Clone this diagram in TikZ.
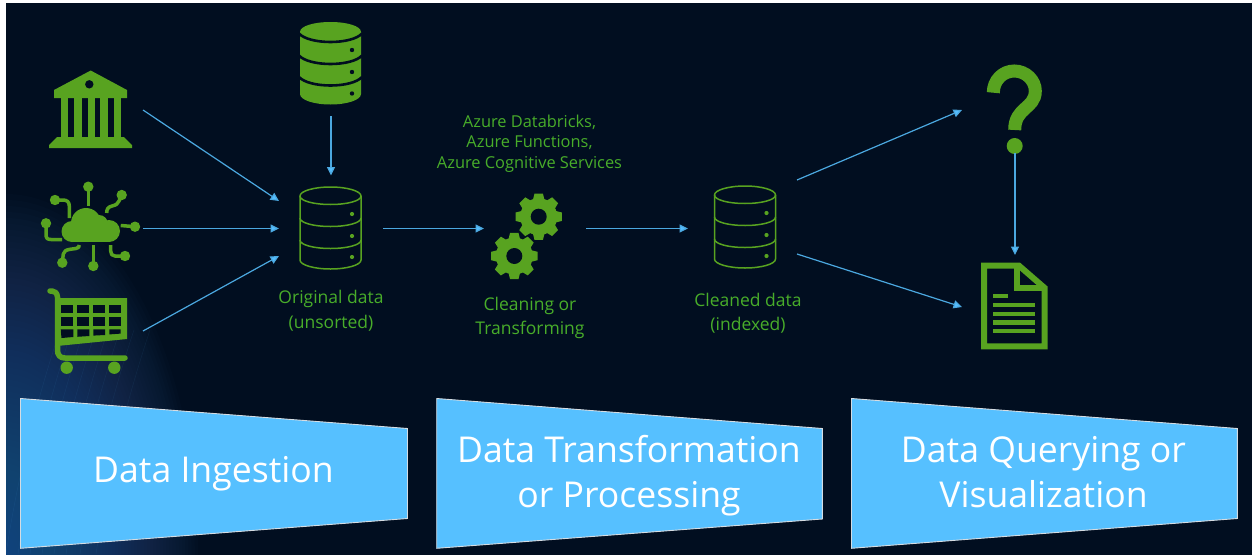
\documentclass[tikz,border=0pt]{standalone}
\usepackage{fontspec}
\setmainfont{Open Sans}
\usetikzlibrary{arrows.meta}
\definecolor{bgnavy}{HTML}{010E20}
\definecolor{glowblue}{HTML}{3A6CAE}
\definecolor{icongreen}{HTML}{58A320}
\definecolor{textgreen}{HTML}{48AD2A}
\definecolor{linkblue}{HTML}{4BA8E0}
\definecolor{headblue}{HTML}{55BEFF}
\definecolor{panelblue}{HTML}{56C0FF}
\definecolor{panelrim}{HTML}{D5DCE2}
\tikzset{
  anchorbox/.style={inner sep=0pt,outer sep=0pt,rectangle},
  link/.style={draw=linkblue,line width=1.2pt,-{Triangle[length=8.5pt,width=8pt,fill=headblue]}},
  smalllabel/.style={text=textgreen,align=center,inner sep=0pt,font=\fontsize{17.5}{24.5}\selectfont},
  toollabel/.style={text=textgreen,align=center,inner sep=0pt,font=\fontsize{16.4}{20.5}\selectfont},
  panel/.style={fill=panelblue,draw=panelrim,line width=0.9pt,line join=miter},
  paneltext/.style={text=white,align=center,inner sep=0pt,font=\fontsize{35.6}{45}\selectfont},
  trace/.style={draw=icongreen,line width=3.5pt,line join=round,fill=none},
}
\newcommand{\dbfilled}{%
  \fill[icongreen] (300,32) .. controls (300,26) and (314,22) .. (330.5,22)
    .. controls (347,22) and (361,26) .. (361,32) -- (361,94)
    .. controls (361,100) and (347,104.5) .. (330.5,104.5)
    .. controls (314,104.5) and (300,100) .. (300,94) -- cycle;
  \foreach \dy in {0,22,43.5}{
    \draw[bgnavy,line width=2.6pt,yshift=-\dy pt] (299,33.5) .. controls (304,39) and (317,42) .. (330.5,42)
      .. controls (344,42) and (357,39) .. (362,33.5);
  }
  \foreach \cy in {50,72,93.5}{\fill[bgnavy] (352,\cy) circle[radius=2.2pt];}
}
\newcommand{\dboutline}[2]{%
  \begin{scope}[shift={(#1,#2)}]
  \draw[icongreen,line width=1.5pt] (300,196) .. controls (300,191) and (314,187) .. (330.5,187)
    .. controls (347,187) and (361,191) .. (361,196) -- (361,260)
    .. controls (361,265) and (347,269) .. (330.5,269)
    .. controls (314,269) and (300,265) .. (300,260) -- cycle;
  \foreach \dy in {0,22,44}{
    \draw[icongreen,line width=1.5pt,yshift=-\dy pt] (300,196) .. controls (300,201) and (314,204.5) .. (330.5,204.5)
      .. controls (347,204.5) and (361,201) .. (361,196);
  }
  \foreach \cy in {214,236,257}{\fill[icongreen] (352,\cy) circle[radius=2.1pt];}
  \end{scope}
}
\newcommand{\gearicon}[2]{%
  \fill[icongreen] (#1,#2) circle[radius=18.5pt];
  \foreach \a in {0,45,...,315}{
    \fill[icongreen,shift={(#1,#2)},rotate=\a] (-6,-16) -- (-4.2,-23.2) -- (4.2,-23.2) -- (6,-16) -- cycle;
  }
  \fill[bgnavy] (#1,#2) circle[radius=8pt];
}
\begin{document}
\begin{tikzpicture}[x=1pt,y=-1pt]
\useasboundingbox (0,0) rectangle (1252,554);
\fill[white] (-5,-5) rectangle (1260,560);
\fill[bgnavy] (6,3) rectangle (1260,560);
% corner glow
\begin{scope}
  \clip (6,3) rectangle (1260,560);
  \foreach \r in {1,...,60}{
    \fill[glowblue,opacity=.022] (6,554) ellipse[x radius=3.2*\r pt,y radius=6*\r pt];
  }
  \foreach \o in {0,12,24,36,48,60,74,90}{
    \draw[headblue,opacity=.07,line width=.5pt] (6+\o,554) .. controls (14+\o,500) and (30+\o,420) .. (60+\o,330);
  }
\end{scope}
% invisible anchors for the icons
\node[anchorbox,minimum width=105pt,minimum height=76pt] (bank) at (90.5,110) {};
\node[anchorbox,minimum width=105pt,minimum height=90pt] (iot) at (90.5,228.5) {};
\node[anchorbox,minimum width=105pt,minimum height=90pt] (cart) at (90.5,331) {};
\node[anchorbox,minimum width=62pt,minimum height=106pt] (dbsource) at (331,63) {};
\node[anchorbox,minimum width=104pt,minimum height=106pt] (dboriginal) at (331,228.5) {};
\node[anchorbox,minimum width=102pt,minimum height=60pt] (gears) at (535,228.5) {};
\node[anchorbox,minimum width=109pt,minimum height=90pt] (dbclean) at (742.5,217) {};
\node[anchorbox,minimum width=106pt,minimum height=86pt] (query) at (1015,110) {};
\node[anchorbox,minimum width=106pt,minimum height=104pt] (report) at (1015,307) {};
% bank
\fill[icongreen] (90.7,70.5) -- (127,90) -- (127,98) -- (54,98) -- (54,90) -- cycle;
\fill[bgnavy] (89.3,84.3) circle[radius=4.2pt];
\foreach \xa/\xb in {61/68,74/82,87.5/94.5,100/108,114/121}{\fill[icongreen] (\xa,98) rectangle (\xb,138);}
\fill[icongreen] (57,137) -- (124,137) -- (132,145) -- (132,148) -- (49,148) -- (49,145) -- cycle;
% cloud + traces
\fill[icongreen] (86,223) circle[radius=15pt] (72,231.5) circle[radius=10.5pt] (109,231) circle[radius=11pt] (99,224) circle[radius=9pt];
\fill[icongreen] (72,221) rectangle (109,242);
\draw[trace] (88.3,187) -- (88.3,206);
\draw[trace] (55,200) -- (63,200) .. controls (67,200) and (69.3,202) .. (69.3,206) -- (69.3,218);
\draw[trace] (121.7,195) -- (119,201) .. controls (118,204) and (116,205) .. (112,206) .. controls (108,207) and (106.7,209) .. (106.7,213);
\draw[trace] (46,223.3) -- (46,234) .. controls (46,238) and (47,239.5) .. (51,239.5) -- (62,239.5);
\draw[trace] (135,226.7) -- (120.7,225.5);
\draw[trace] (62.3,262.7) -- (63.3,254) .. controls (64,251) and (66,250) .. (70,249.3) -- (76,248.5) .. controls (78.5,248) and (79.3,247) .. (79.3,245);
\draw[trace] (93.3,266) -- (93.3,245);
\draw[trace] (125,256) -- (115,256) .. controls (112,256) and (110.7,254) .. (110.7,251) -- (110.7,245);
\foreach \px/\py in {88.3/186.7,55/200,121.7/195,46/223.3,135/226.7,62.3/262.7,93.3/266,125/256}{
  \fill[icongreen] (\px,\py) circle[radius=5.2pt];
}
% cart
\fill[icongreen] (56,298) -- (127,298) -- (127,339) -- (62,345.5) -- (60,345.5) -- cycle;
\foreach \xa/\xb/\ya/\yb in {60.7/73.3/305/313.3,77.3/89.3/305/313.3,93.3/105/305/313.3,109.3/120.7/305/313.3,
  60.7/73.3/317.3/326,77.3/89.3/317.3/326,93.3/105/317.3/326,109.3/120.7/317.3/326}{
  \fill[bgnavy] (\xa,\ya) rectangle (\xb,\yb);
}
\fill[bgnavy] (60.7,329.3) -- (73.3,329.3) -- (73.3,337) -- (61.5,338) -- cycle;
\fill[bgnavy] (77.3,329.3) -- (89.3,329.3) -- (89.3,336) -- (77.3,336.8) -- cycle;
\fill[bgnavy] (93.3,329.3) -- (105,329.3) -- (105,335) -- (93.3,335.6) -- cycle;
\fill[bgnavy] (109.3,329.3) -- (120.7,329.3) -- (120.7,333.6) -- (109.3,334.4) -- cycle;
\draw[icongreen,line width=5.5pt,line cap=round,line join=round] (50,291) -- (52,291) .. controls (55,291) and (57,293) .. (57.5,297) -- (57.5,350) .. controls (57.5,355) and (60,358) .. (65,358) -- (125,358);
\fill[icongreen] (66.7,367.7) circle[radius=6.2pt] (114.3,367.7) circle[radius=6.2pt];
% databases
\dbfilled
\dboutline{0}{0}
\dboutline{414.5}{-1}
% gears
\gearicon{538.7}{216.7}
\gearicon{514.3}{256}
% question mark
\draw[icongreen,line width=13pt] (993.3,92.7) .. controls (993.3,80.4) and (1002.7,71) .. (1014.3,71)
  .. controls (1026,71) and (1035.3,80.4) .. (1035.3,91) .. controls (1035.3,109) and (1014.7,107) .. (1014.7,130);
\fill[icongreen] (1014.7,146) circle[radius=8pt];
% document
\draw[icongreen,line width=6pt,line join=miter] (984,265.7) -- (1019,265.7) -- (1044.7,288) -- (1044.7,346.3) -- (984,346.3) -- cycle;
\draw[icongreen,line width=6pt,line join=miter] (1017,265.7) -- (1017,288) -- (1044.7,288);
\fill[icongreen] (993.3,294.3) rectangle (1008,298.3);
\foreach \ya/\yb in {302.7/307.3,311.7/316,320/324.7,328.7/333.3}{\fill[icongreen] (993.3,\ya) rectangle (1034.7,\yb);}
% connectors
\draw[link] (bank.east) -- ([yshift=27.5pt]dboriginal.west);
\draw[link] (iot.east) -- (dboriginal.west);
\draw[link] (cart.east) -- ([yshift=-27.5pt]dboriginal.west);
\draw[link] (dbsource.south) -- (dboriginal.north);
\draw[link] (dboriginal.east) -- (gears.west);
\draw[link] (gears.east) -- ([yshift=-11.5pt]dbclean.west);
\draw[link] ([yshift=37pt]dbclean.east) -- (query.west);
\draw[link] ([yshift=-37pt]dbclean.east) -- (report.west);
\draw[link] (query.south) -- (report.north);
% labels
\node[smalllabel] (lborig) at (331,310.5) {Original data\\(unsorted)};
\node[smalllabel] (lbclean) at (530,318) {Cleaning or\\Transforming};
\node[smalllabel] (lbindexed) at (748,313) {Cleaned data\\(indexed)};
\node[toollabel] (lbtools) at (529.5,143.5) {Azure Databricks,\\Azure Functions,\\Azure Cognitive Services};
% panels
\path[panel] (20.5,398.5) -- (407.5,428.5) -- (407.5,518.5) -- (20.5,548.3) -- cycle;
\path[panel] (436.7,398.5) -- (822.3,428.5) -- (822.3,519) -- (436.7,548.3) -- cycle;
\path[panel] (851.5,398.5) -- (1237.3,428.5) -- (1237.3,518.5) -- (851.5,548.3) -- cycle;
\node[paneltext] (pingest) at (213.5,474) {Data Ingestion};
\node[paneltext] (ptrans) at (629,476) {Data Transformation\\or Processing};
\node[paneltext] (pquery) at (1043.5,472) {Data Querying or\\Visualization};
\end{tikzpicture}
\end{document}
